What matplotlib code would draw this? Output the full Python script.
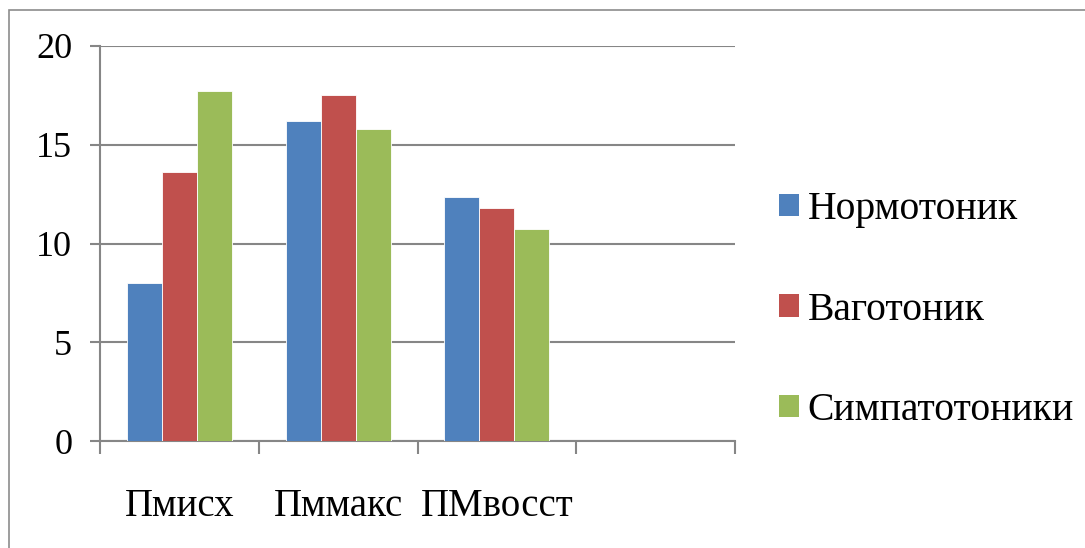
import matplotlib
matplotlib.use("Agg")
import matplotlib.pyplot as plt
from matplotlib.patches import Rectangle, Patch
import numpy as np

categories = ["Пмисх", "Пммакс", "ПМвосст", ""]
series_names = ["Нормотоник", "Ваготоник", "Симпатотоники"]
normo = [8.0, 16.2, 12.35, np.nan]
vago = [13.6, 17.5, 11.8, np.nan]
simpa = [17.7, 15.8, 10.75, np.nan]
colors = ["#4F81BD", "#C0504D", "#9BBB59"]
y_ticks = [0, 5, 10, 15, 20]

plt.rcParams['font.family'] = ['Liberation Serif', 'DejaVu Serif']

W, H = 1085, 548
fig = plt.figure(figsize=(W / 100, H / 100), dpi=100)

# outer chart border
fig.patches.append(Rectangle((9 / W, -0.1), 1.2, (H - 10) / H + 0.1,
                             transform=fig.transFigure, fill=False,
                             edgecolor="#8c8c8c", linewidth=1.2))

ax = fig.add_axes([100 / W, (H - 441) / H, 635 / W, 395 / H])

n = len(categories)
x = np.arange(n) + 0.5
bw = 35 / (635 / 4)
data = [normo, vago, simpa]
for i, (vals, c, name) in enumerate(zip(data, colors, series_names)):
    ax.bar(x + (i - 1) * bw, vals, width=bw, color=c, edgecolor="#ffffff",
           linewidth=0.6, label=name, zorder=3)

ax.set_xlim(0, n)
ax.set_ylim(0, 20)
ax.set_yticks(y_ticks)
ax.set_yticklabels([str(v) for v in y_ticks])
ax.yaxis.grid(True, color="#868686", linewidth=1.5, zorder=0)
ax.set_axisbelow(True)

ax.set_xticks(np.arange(n + 1))
ax.set_xticklabels([])
ax.set_xticks(x, minor=True)
ax.set_xticklabels(categories, minor=True)
ax.tick_params(axis="x", which="minor", length=0, pad=34, labelsize=28)
ax.tick_params(axis="x", which="major", length=9, width=1.5, color="#868686")
ax.tick_params(axis="y", length=7, width=1.5, color="#868686", pad=13, labelsize=26)

for s in ["top", "right"]:
    ax.spines[s].set_visible(False)
for s in ["left", "bottom"]:
    ax.spines[s].set_color("#868686")
    ax.spines[s].set_linewidth(1.5)

handles = [Patch(facecolor=c, edgecolor="none") for c in colors]
leg = ax.legend(handles, series_names, loc="center left",
                bbox_to_anchor=(779 / W, (H - 310) / H),
                bbox_transform=fig.transFigure, frameon=False,
                fontsize=28.5, handlelength=0.5, handleheight=0.5,
                handletextpad=0.22, labelspacing=1.6, borderpad=0,
                borderaxespad=0)

fig.savefig("out.png", dpi=100)
